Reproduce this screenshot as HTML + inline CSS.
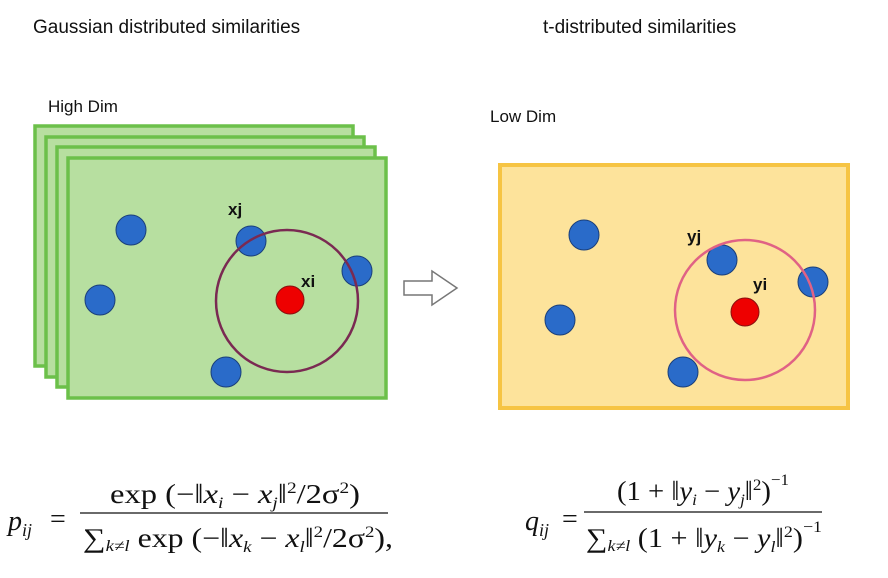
<!DOCTYPE html>
<html><head><meta charset="utf-8"><style>
body{margin:0;width:888px;height:578px;background:#fff;overflow:hidden;}
svg{display:block}
.t{font-family:"Liberation Sans",sans-serif;fill:#111}
.m{font-family:"Liberation Serif",serif;fill:#111}
</style></head><body>
<svg width="888" height="578">
<text class="t" x="33" y="33" font-size="19">Gaussian distributed similarities</text>
<text class="t" x="543" y="33" font-size="19">t-distributed similarities</text>
<text class="t" x="48" y="112" font-size="17" fill="#333">High Dim</text>
<text class="t" x="490" y="122" font-size="17" fill="#333">Low Dim</text>
<g id="stack"></g>
<rect x="500" y="165" width="348" height="243" fill="#fde39b" stroke="#f6c443" stroke-width="4"/>
<g id="pts"></g>
<text class="t" x="228" y="215" font-size="17" font-weight="bold" fill="#222">xj</text>
<text class="t" x="301" y="287" font-size="17" font-weight="bold" fill="#222">xi</text>
<text class="t" x="687" y="242" font-size="17" font-weight="bold" fill="#222">yj</text>
<text class="t" x="753" y="290" font-size="17" font-weight="bold" fill="#222">yi</text>
<path d="M404 281 H432 V271 L457 288 L432 305 V295 H404 Z" fill="#fff" stroke="#777" stroke-width="1.5"/>
<g>
<text class="m" x="8" y="530" font-size="28" font-style="italic">p<tspan font-size="18" dy="6">ij</tspan></text>
<text class="m" x="50" y="528" font-size="28">=</text>
<line x1="80" y1="513" x2="388" y2="513" stroke="#111" stroke-width="1.3"/>
<text class="m" x="110" y="503" font-size="27" textLength="250" lengthAdjust="spacingAndGlyphs">exp (−‖<tspan font-style="italic">x</tspan><tspan font-size="16" font-style="italic" dy="5">i</tspan><tspan dy="-5"> − </tspan><tspan font-style="italic">x</tspan><tspan font-size="16" font-style="italic" dy="5">j</tspan><tspan dy="-5">‖</tspan><tspan font-size="16" dy="-10">2</tspan><tspan dy="10">/2σ</tspan><tspan font-size="16" dy="-10">2</tspan><tspan dy="10">)</tspan></text>
<text class="m" x="83" y="547" font-size="27" textLength="310" lengthAdjust="spacingAndGlyphs">∑<tspan font-size="16" font-style="italic" dy="4">k≠l</tspan><tspan dy="-4"> exp (−‖</tspan><tspan font-style="italic">x</tspan><tspan font-size="16" font-style="italic" dy="5">k</tspan><tspan dy="-5"> − </tspan><tspan font-style="italic">x</tspan><tspan font-size="16" font-style="italic" dy="5">l</tspan><tspan dy="-5">‖</tspan><tspan font-size="16" dy="-10">2</tspan><tspan dy="10">/2σ</tspan><tspan font-size="16" dy="-10">2</tspan><tspan dy="10">),</tspan></text>
</g>
<g>
<text class="m" x="525" y="530" font-size="28" font-style="italic">q<tspan font-size="18" dy="6">ij</tspan></text>
<text class="m" x="562" y="528" font-size="28">=</text>
<line x1="584" y1="512" x2="822" y2="512" stroke="#111" stroke-width="1.3"/>
<text class="m" x="617" y="500" font-size="27" textLength="172" lengthAdjust="spacingAndGlyphs">(1 + ‖<tspan font-style="italic">y</tspan><tspan font-size="16" font-style="italic" dy="5">i</tspan><tspan dy="-5"> − </tspan><tspan font-style="italic">y</tspan><tspan font-size="16" font-style="italic" dy="5">j</tspan><tspan dy="-5">‖</tspan><tspan font-size="16" dy="-10">2</tspan><tspan dy="10">)</tspan><tspan font-size="16" dy="-15">−1</tspan></text>
<text class="m" x="586" y="547" font-size="27" textLength="236" lengthAdjust="spacingAndGlyphs">∑<tspan font-size="16" font-style="italic" dy="4">k≠l</tspan><tspan dy="-4"> (1 + ‖</tspan><tspan font-style="italic">y</tspan><tspan font-size="16" font-style="italic" dy="5">k</tspan><tspan dy="-5"> − </tspan><tspan font-style="italic">y</tspan><tspan font-size="16" font-style="italic" dy="5">l</tspan><tspan dy="-5">‖</tspan><tspan font-size="16" dy="-10">2</tspan><tspan dy="10">)</tspan><tspan font-size="16" dy="-15">−1</tspan></text>
</g>
</svg>
<script>
const NS="http://www.w3.org/2000/svg";
const stackX=[35,46,57,68];
const stackY=[126,137,147,158];
const highBlueX=[131,100,251,357,226];
const highBlueY=[230,300,241,271,372];
const highCenter=[290,300];
const highRadius=71;
const lowBlueX=[584,560,722,813,683];
const lowBlueY=[235,320,260,282,372];
const lowCenter=[745,312];
const lowRadius=70;
function mk(tag,attrs,parent){const e=document.createElementNS(NS,tag);for(const k in attrs)e.setAttribute(k,attrs[k]);parent.appendChild(e);return e;}
const stack=document.getElementById('stack');
stackX.forEach((x,i)=>{
  const r=mk('rect',{x:x,y:stackY[i],width:318,height:240,fill:'#b7dfa0',stroke:'#6cc04a','stroke-width':3.5},stack);
  
  
});
const g=document.getElementById('pts');
function dots(xs,ys,c,rad,nm){
  xs.forEach((x,i)=>{
    const d=mk('circle',{cx:x,cy:ys[i],r:15,fill:'#2a6bc9',stroke:'#1a3f7a','stroke-width':1},g);
    
    
  });
  const red=mk('circle',{cx:c[0],cy:c[1],r:14,fill:'#e00',stroke:'#8a1010','stroke-width':1},g);
  
  
}
dots(highBlueX,highBlueY,highCenter,highRadius,'high-dim');
const hc=mk('circle',{cx:highCenter[0]-3,cy:highCenter[1]+1,r:highRadius,fill:'none',stroke:'#7a2a52','stroke-width':2.5},g);


dots(lowBlueX,lowBlueY,lowCenter,lowRadius,'low-dim');
const lc=mk('circle',{cx:lowCenter[0],cy:lowCenter[1]-2,r:lowRadius,fill:'none',stroke:'#e06285','stroke-width':2.5},g);


</script>
</body></html>
